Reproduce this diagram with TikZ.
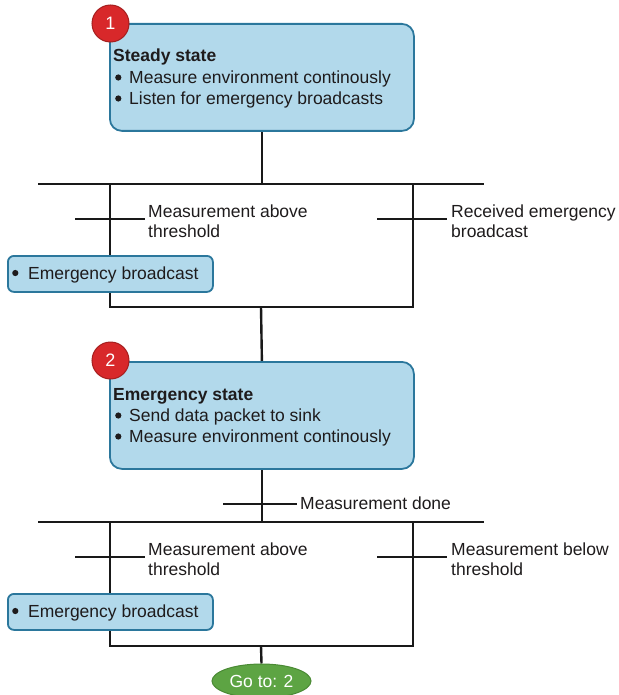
\documentclass[tikz,border=0pt]{standalone}
\usepackage{fontspec}
\setmainfont{Liberation Sans}
\usetikzlibrary{shapes.geometric}
\definecolor{boxfill}{HTML}{B2D9EB}
\definecolor{boxline}{HTML}{2B779C}
\definecolor{badgered}{HTML}{D8282A}
\definecolor{badgeline}{HTML}{A51F1F}
\definecolor{gofill}{HTML}{5DA443}
\definecolor{goline}{HTML}{4A8A34}
\definecolor{txt}{HTML}{1E1B1C}
\pgfdeclarelayer{bg}
\pgfsetlayers{bg,main}
\tikzset{
  statebox/.style={draw=boxline, fill=boxfill, line width=1.8pt, rounded corners=12pt,
    minimum width=304pt, minimum height=107pt, anchor=north west, inner sep=0pt},
  actbox/.style={draw=boxline, fill=boxfill, line width=1.8pt, rounded corners=6pt,
    minimum width=205pt, minimum height=36pt, anchor=north west, inner sep=0pt},
  badge/.style={circle, fill=badgered, draw=badgeline, line width=1pt, minimum size=37pt,
    inner sep=0pt, text=white, font=\fontsize{18}{20}\selectfont},
  goto/.style={ellipse, fill=gofill, draw=goline, line width=1pt, minimum width=99pt,
    minimum height=34pt, inner sep=0pt, text=white, font=\fontsize{17.5}{20}\selectfont},
  lbl/.style={anchor=base west, inner sep=0pt, text=txt, font=\fontsize{17.5}{21}\selectfont},
  flow/.style={line width=2.4pt, draw=black!90},
}
\newcommand{\bulw}[1]{\makebox[#1][l]{\hspace{2pt}\tikz[baseline=0pt]\fill[txt] (3.2pt,6pt) circle[radius=3.1pt];}}
\begin{document}
\begin{tikzpicture}[x=1pt,y=-1pt]
\useasboundingbox (0,0) rectangle (618,695);

% ---------- state 1 ----------
\node[statebox] (s1) at (109,23) {};
\node[lbl, font=\fontsize{17.5}{21}\selectfont\bfseries] (s1t) at (113,62) {Steady state};
\node[lbl] (s1a) at (113,83.5) {\bulw{16pt}Measure environment continously};
\node[lbl] (s1b) at (113,104.5) {\bulw{16pt}Listen for emergency broadcasts};
\node[badge] (n1) at (110.5,23.5) {1};

% bar 1
\coordinate (b1l) at (38,184);
\coordinate (b1r) at (484,184);
\coordinate (l1t) at (110,184);
\coordinate (r1t) at (413,184);
\coordinate (l1b) at (110,307);
\coordinate (r1b) at (413,307);
\coordinate (m1b) at (261,307);
\coordinate (tl1a) at (75,219);
\coordinate (tl1b) at (145,219);
\coordinate (tr1a) at (377,219);
\coordinate (tr1b) at (447,219);

\node[lbl] (c1a) at (148,217) {Measurement above};
\node[lbl] (c1b) at (148,237) {threshold};
\node[lbl] (c2a) at (451,217) {Received emergency};
\node[lbl] (c2b) at (451,237) {broadcast};

\node[actbox] (e1) at (7,255) {};
\node[lbl] (e1t) at (10,279) {\bulw{18pt}Emergency broadcast};

% ---------- state 2 ----------
\node[statebox] (s2) at (109,361) {};
\node[lbl, font=\fontsize{17.5}{21}\selectfont\bfseries] (s2t) at (113,400) {Emergency state};
\node[lbl] (s2a) at (113,421.5) {\bulw{16pt}Send data packet to sink};
\node[lbl] (s2b) at (113,442.5) {\bulw{16pt}Measure environment continously};
\node[badge] (n2) at (110.5,360.5) {2};

\coordinate (tda) at (223,504);
\coordinate (tdb) at (297,504);
\node[lbl] (td) at (300,509.5) {Measurement done};

\coordinate (b2l) at (38,522);
\coordinate (b2r) at (484,522);
\coordinate (l2t) at (110,522);
\coordinate (r2t) at (413,522);
\coordinate (l2b) at (110,646);
\coordinate (r2b) at (413,646);
\coordinate (m2b) at (261,646);
\coordinate (tl2a) at (75,557);
\coordinate (tl2b) at (145,557);
\coordinate (tr2a) at (377,557);
\coordinate (tr2b) at (447,557);

\node[lbl] (c3a) at (148,555) {Measurement above};
\node[lbl] (c3b) at (148,575) {threshold};
\node[lbl] (c4a) at (451,555) {Measurement below};
\node[lbl] (c4b) at (451,575) {threshold};

\node[actbox] (e2) at (7,593) {};
\node[lbl] (e2t) at (10,617) {\bulw{18pt}Emergency broadcast};

\node[goto] (g) at (261.5,681) {Go to: 2};

% ---------- connectors ----------
\begin{pgfonlayer}{bg}
  \draw[flow] (s1.south) -- (s1.south |- b1l);
  \draw[flow] (b1l) -- (b1r);
  \draw[flow] (l1t) -- (l1b) -- (r1b) -- (r1t);
  \draw[flow] (tl1a) -- (tl1b);
  \draw[flow] (tr1a) -- (tr1b);
  \draw[flow] (m1b) -- (s2.north);
  \draw[flow] (s2.south) -- (s2.south |- b2l);
  \draw[flow] (tda) -- (tdb);
  \draw[flow] (b2l) -- (b2r);
  \draw[flow] (l2t) -- (l2b) -- (r2b) -- (r2t);
  \draw[flow] (tl2a) -- (tl2b);
  \draw[flow] (tr2a) -- (tr2b);
  \draw[flow] (m2b) -- (g.north);
\end{pgfonlayer}
\end{tikzpicture}
\end{document}
